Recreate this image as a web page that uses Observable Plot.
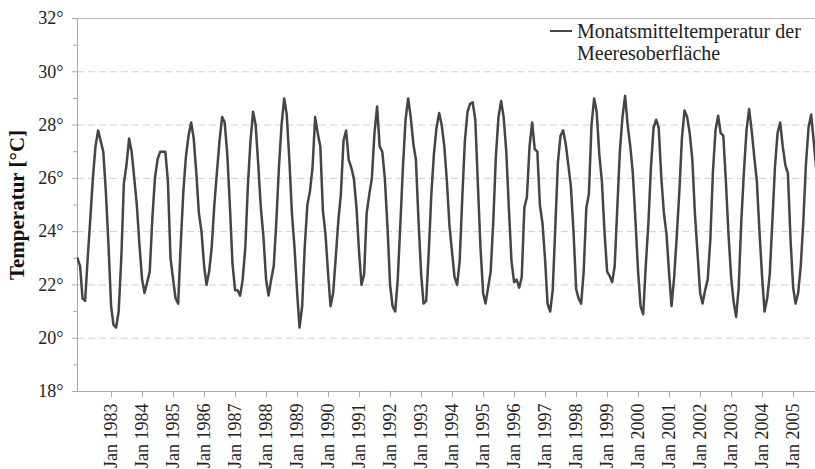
<!DOCTYPE html>
<html><head><meta charset="utf-8">
<script src="https://cdn.jsdelivr.net/npm/d3@7"></script>
<script src="https://cdn.jsdelivr.net/npm/@observablehq/plot@0.6"></script>
<style>
body{margin:0;background:#fff;}
#wrap{position:relative;width:815px;height:469px;overflow:hidden;font-family:"Liberation Serif","Times New Roman",serif;}
#wrap svg, #wrap svg text{font-family:"Liberation Serif","Times New Roman",serif !important;}
#legend{position:absolute;left:550px;top:20px;font-size:20px;color:#222;line-height:22px;font-family:"Liberation Serif","Times New Roman",serif;}
#legend .swatch{position:absolute;left:0;top:10px;width:22px;height:0;border-top:2.5px solid #454545;}
#legend .txt{position:absolute;left:27px;top:0;white-space:nowrap;}
</style></head><body><div id="wrap"></div>
<script>
const startYear = 1982;
const sst = [
23.0,22.7,21.5,21.4,23.0,24.5,26.0,27.2,27.8,27.4,27.0,25.5,
23.5,21.2,20.5,20.4,21.0,23.0,25.8,26.5,27.5,27.0,26.0,25.0,
23.5,22.2,21.7,22.1,22.5,24.5,26.0,26.7,27.0,27.0,27.0,25.9,
23.0,22.2,21.5,21.3,23.5,25.5,26.8,27.6,28.1,27.5,26.2,24.7,
24.0,22.7,22.0,22.5,23.4,25.0,26.2,27.4,28.3,28.1,26.9,25.0,
22.8,21.8,21.8,21.6,22.2,23.4,25.7,27.4,28.5,28.0,26.5,24.9,
23.8,22.2,21.6,22.2,22.7,24.4,26.4,28.0,29.0,28.4,26.7,24.7,
23.4,21.7,20.4,21.2,23.4,25.0,25.5,26.4,28.3,27.7,27.2,24.8,
23.9,22.4,21.2,21.7,23.0,24.4,25.4,27.4,27.8,26.7,26.4,26.0,
24.9,23.2,22.0,22.4,24.7,25.4,26.0,27.7,28.7,27.2,27.0,26.0,
24.2,22.0,21.2,21.0,22.2,24.3,26.4,28.2,29.0,28.3,27.3,26.7,
24.4,22.4,21.3,21.4,23.2,25.4,26.9,27.9,28.45,28.0,27.2,25.9,
24.2,23.2,22.3,22.0,22.9,25.3,27.4,28.5,28.8,28.85,28.2,25.8,
23.4,21.7,21.3,21.9,22.5,24.4,26.8,28.3,28.9,28.3,27.0,24.9,
22.9,22.1,22.2,21.9,22.3,24.9,25.3,27.2,28.1,27.1,27.0,25.0,
24.3,22.9,21.3,21.0,21.8,24.2,26.6,27.6,27.8,27.3,26.5,25.7,
24.0,21.85,21.5,21.3,22.5,24.9,25.4,28.0,29.0,28.5,26.9,25.9,
24.0,22.5,22.35,22.1,22.7,24.9,27.0,28.3,29.1,28.0,27.2,26.2,
24.4,22.5,21.2,20.9,22.7,24.3,26.4,27.9,28.2,27.9,26.0,24.7,
23.9,22.4,21.2,22.3,23.8,25.5,27.5,28.55,28.3,27.7,26.7,24.7,
23.2,21.7,21.3,21.8,22.2,23.7,26.2,27.8,28.35,27.7,27.6,25.9,
23.9,22.3,21.4,20.8,21.9,24.4,26.2,27.8,28.6,27.8,26.8,25.9,
24.0,22.3,21.0,21.5,22.4,24.4,26.4,27.7,28.1,27.2,26.5,26.2,
23.7,21.9,21.3,21.7,22.7,24.4,26.5,27.9,28.4,27.4,26.3
];
const yTicks = [18,20,22,24,26,28,30,32];
const yMinor = [19,21,23,25,27,29,31];
const tickYears = [1983,1984,1985,1986,1987,1988,1989,1990,1991,1992,1993,1994,1995,1996,1997,1998,1999,2000,2001,2002,2003,2004,2005];
const yLabel = "Temperatur [°C]";
const legendLines = ["Monatsmitteltemperatur der","Meeresoberfläche"];

const data = sst.map((v, i) => ({date: new Date(Date.UTC(startYear, i, 1)), v}));
const x0 = new Date(Date.UTC(startYear, 0, 1));
const x1 = new Date(x0.getTime() + 23.806 * 365.25 * 864e5);
const tickDates = tickYears.map(y => new Date(Date.UTC(y, 0, 1)));

const chart = Plot.plot({
  width: 815, height: 469,
  marginLeft: 77, marginRight: 0, marginTop: 18, marginBottom: 78,
  style: {fontFamily: "Liberation Serif, Times New Roman, serif", fontSize: "18px", color: "#222", background: "#fff"},
  x: {type: "utc", domain: [x0, x1]},
  y: {domain: [18, 32]},
  marks: [
    Plot.gridY(yTicks.filter(d => d > 18 && d < 32), {stroke: "#cfcfcf", strokeOpacity: 1, strokeDasharray: "7,4"}),
    Plot.ruleY([32], {stroke: "#bdbdbd"}),
    Plot.ruleY([18], {stroke: "#a8a8a8"}),
    Plot.ruleX([x0], {stroke: "#a8a8a8"}),
    Plot.axisY(yTicks, {tickFormat: d => d + "°", tickSize: 5, tickPadding: 9, stroke: "#a8a8a8", label: null, fontSize: 18}),
    Plot.axisY(yMinor, {tickFormat: () => "", tickSize: 4, stroke: "#a8a8a8", label: null}),
    Plot.axisX(tickDates, {tickRotate: -90, tickFormat: d => "Jan " + d.getUTCFullYear(), tickSize: 6, tickPadding: 6, dx: 3, stroke: "#a8a8a8", label: null, fontSize: 18}),
    Plot.text([yLabel], {frameAnchor: "left", textAnchor: "middle", rotate: -90, dx: -60, fontWeight: "bold", fontSize: 21, fill: "#111"}),
    Plot.line(data, {x: "date", y: "v", stroke: "#454545", strokeWidth: 2.5, clip: true})
  ]
});
const wrap = document.getElementById("wrap");
wrap.appendChild(chart);
const leg = document.createElement("div");
leg.id = "legend";
leg.innerHTML = '<div class="swatch"></div><div class="txt">' + legendLines.join("<br>") + '</div>';
wrap.appendChild(leg);
</script></body></html>
